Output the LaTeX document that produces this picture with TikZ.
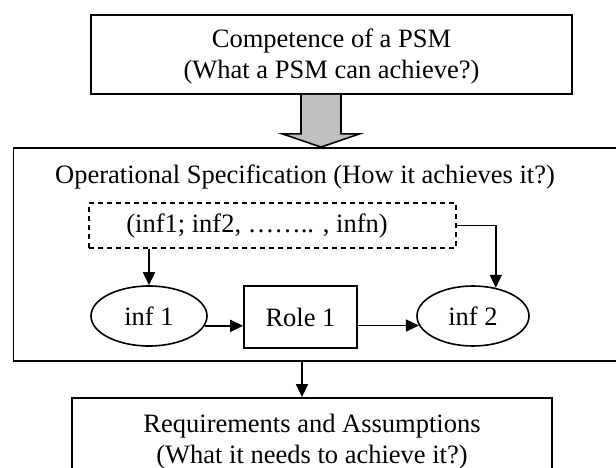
\documentclass[tikz,border=0pt]{standalone}
\usepackage{fontspec}
\setmainfont{Liberation Serif}
\usetikzlibrary{arrows.meta,shapes.geometric,calc}
\tikzset{
  box/.style={draw, line width=1.8pt, inner sep=0pt, align=center},
  listbox/.style={draw, line width=1.6pt, dash pattern=on 5pt off 4pt, inner sep=0pt},
  infnode/.style={draw, ellipse, line width=1.6pt, inner sep=0pt},
  conn/.style={line width=1.6pt, -{Triangle[length=13pt,width=12pt]}},
  blockarrow/.style={draw, line width=1.6pt, fill=gray!50, line join=miter},
  label/.style={align=center, inner sep=0pt}
}
\begin{document}
\begin{tikzpicture}[x=1pt, y=-1pt, font=\fontsize{26.5}{31}\selectfont]
\useasboundingbox (0,0) rectangle (616,468);
\clip (0,0) rectangle (616,468);

% competence box
\node[box, minimum width=481pt, minimum height=79pt] (top) at (331.5,54.5) {};
\node[label] (toptext) at (331.5,56) {Competence of a PSM\\(What a PSM can achieve?)};

% operational specification frame (runs past the right edge)
\node[box, minimum width=626pt, minimum height=213pt] (ops) at (326.5,254.5) {};
\node[label] (opstitle) at (305,177) {Operational Specification (How it achieves it?)};

% wide grey arrow from the competence box into the frame
\coordinate (ft) at ([xshift=-10.5pt]top.south);
\draw[blockarrow]
  ($(ft)+(-20,0)$) -- ($(ft)+(-20,39)$) -- ($(ft)+(-38.5,39)$) -- (ft |- ops.north)
  -- ($(ft)+(38.5,39)$) -- ($(ft)+(20,39)$) -- ($(ft)+(20,0)$);

% list of inferences
\node[listbox, minimum width=367pt, minimum height=45pt] (list) at (272.5,225.5) {};
\node[label] (listtext) at (257,226) {(inf1; inf2, …….. , infn)};

% inferences and role
\node[infnode, minimum width=116pt, minimum height=60pt] (i1) at (149,316) {inf 1};
\node[box, line width=1.6pt, minimum width=113pt, minimum height=62pt] (role) at (300.5,317) {Role 1};
\node[infnode, minimum width=112pt, minimum height=60pt] (i2) at (473,316) {inf 2};

\draw[conn] (i1.north |- list.south) -- (i1.north);
\draw[conn] (list.east) -| (i2.51);
\draw[conn] (i1.-10) -- (role.west |- i1.-10);
\draw[conn] (role.east |- i2.190) -- (i2.190);

% requirements box (runs past the bottom edge)
\node[box, minimum width=480pt, minimum height=122pt] (req) at (312,459) {};
\node[label] (reqtext) at (312,441.5) {Requirements and Assumptions\\(What it needs to achieve it?)};

\draw[conn] ([xshift=-10pt]req.north |- ops.south) -- ([xshift=-10pt]req.north);
\end{tikzpicture}
\end{document}
